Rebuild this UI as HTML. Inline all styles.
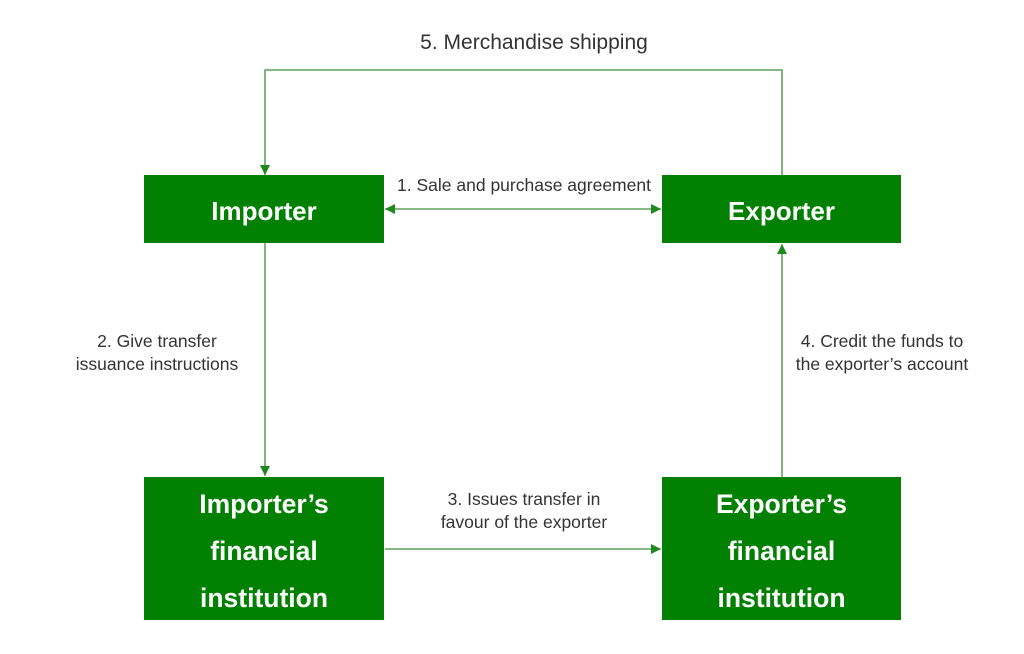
<!DOCTYPE html>
<html><head><meta charset="utf-8"><style>
body{margin:0;width:1024px;height:654px;background:#fff;position:relative;overflow:hidden;font-family:"Liberation Sans",sans-serif}
.b{position:absolute;background:#018001;color:#fff;font-weight:bold;display:flex;align-items:center;justify-content:center;text-align:center;box-sizing:border-box}
.s{font-size:26px;padding-top:4px}
.m{font-size:26.5px;line-height:47px;padding-top:5px}
.t{position:absolute;color:#333;font-size:17.5px;text-align:center;line-height:23px;white-space:nowrap}
svg{position:absolute;left:0;top:0}
</style></head><body>
<svg width="1024" height="654">
<defs>
<marker id="a" viewBox="0 0 10 10" refX="10" refY="5" markerWidth="10" markerHeight="10" markerUnits="userSpaceOnUse" orient="auto"><path d="M0,0 L10,5 L0,10z" fill="#1e8a1e"/></marker>
<marker id="as" viewBox="0 0 10 10" refX="0" refY="5" markerWidth="10" markerHeight="10" markerUnits="userSpaceOnUse" orient="auto"><path d="M10,0 L0,5 L10,10z" fill="#1e8a1e"/></marker>
</defs>
<g stroke="#3a8f3a" stroke-width="1.3" fill="none">
<polyline points="782,176 782,70 265,70 265,175" marker-end="url(#a)"/>
<line x1="385" y1="209" x2="661" y2="209" marker-start="url(#as)" marker-end="url(#a)"/>
<line x1="265" y1="243" x2="265" y2="476" marker-end="url(#a)"/>
<line x1="385" y1="549" x2="661" y2="549" marker-end="url(#a)"/>
<line x1="782" y1="477" x2="782" y2="244" marker-end="url(#a)"/>
</g>
</svg>
<div class="b s" style="left:144px;top:175px;width:240px;height:68px">Importer</div>
<div class="b s" style="left:662px;top:175px;width:239px;height:68px">Exporter</div>
<div class="b m" style="left:144px;top:477px;width:240px;height:143px">Importer’s<br>financial<br>institution</div>
<div class="b m" style="left:662px;top:477px;width:239px;height:143px">Exporter’s<br>financial<br>institution</div>
<div class="t" style="left:534px;top:30px;transform:translateX(-50%);font-size:21px;line-height:26px">5. Merchandise shipping</div>
<div class="t" style="left:524px;top:174px;transform:translateX(-50%)">1. Sale and purchase agreement</div>
<div class="t" style="left:157px;top:330px;transform:translateX(-50%)">2. Give transfer<br>issuance instructions</div>
<div class="t" style="left:524px;top:488px;transform:translateX(-50%)">3. Issues transfer in<br>favour of the exporter</div>
<div class="t" style="left:882px;top:330px;transform:translateX(-50%)">4. Credit the funds to<br>the exporter’s account</div>
</body></html>
